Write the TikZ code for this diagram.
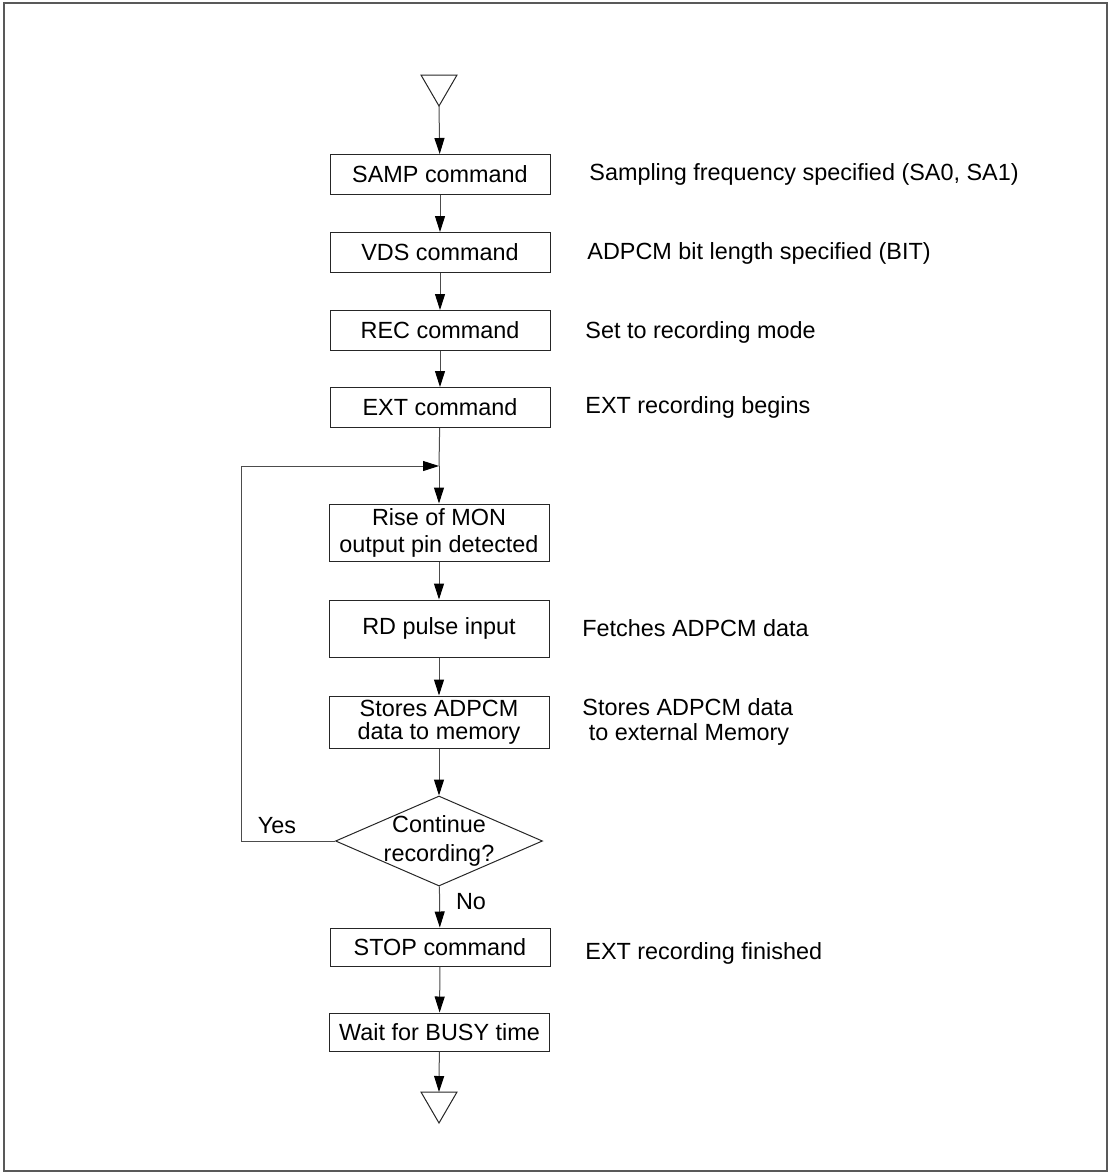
\documentclass[tikz,border=0pt]{standalone}
\usepackage{fontspec}
\setmainfont{Liberation Sans}
\usepackage{tikz}
\usetikzlibrary{arrows.meta,shapes.geometric}
\tikzset{
  frameS/.style ={draw=black!65, line width=1pt},
  stepS/.style  ={draw=black!85, line width=0.5pt, minimum width=110pt, minimum height=20pt, inner sep=1pt, align=center},
  decS/.style   ={diamond, draw=black!85, line width=0.5pt, minimum width=103.5pt, minimum height=45pt, inner sep=0pt},
  termS/.style  ={draw=black!85, line width=0.5pt},
  lineS/.style  ={draw=black!70, line width=0.5pt},
  flowS/.style  ={lineS, -{Triangle[length=8pt,width=5pt,black]}},
  noteS/.style  ={anchor=west, inner sep=0pt, align=left},
}

\begin{document}
\begin{tikzpicture}[x=0.5pt,y=-0.5pt,font=\fontsize{11.7pt}{13.5pt}\selectfont]
  \useasboundingbox (0,0) rectangle (1110,1173);
  \draw[frameS] (4,3) rectangle (1107,1171);
  % start and end terminals
  \coordinate (start) at (439,106);
  \draw[termS] (421,75) -- (457,75) -- (start) -- cycle;
  \coordinate (end) at (439,1092);
  \draw[termS] (421,1092) -- (457,1092) -- (439,1123) -- cycle;
  % steps
  \node[stepS] (samp)  at (440,174.5) {SAMP command};
  \node[stepS] (vds)   at (440,252.5) {VDS command};
  \node[stepS] (rec)   at (440,330.5) {REC command};
  \node[stepS] (ext)   at (440,407.5) {EXT command};
  \node[stepS, minimum height=28.5pt] (mon) at (439,532.5) {Rise of MON\\output pin detected};
  \node[stepS, minimum height=28.5pt] (rd)  at (439,628.5) {RD pulse input};
  \node[stepS, minimum height=26pt]   (store) at (439,722) {Stores ADPCM\\[-2pt]data to memory};
  \node[decS] (dec) at (439,841) {};
  \node[align=center, inner sep=0pt] (dectxt) at (dec.center) {Continue\\[1pt]recording?};
  \node[stepS, minimum height=19pt] (stop) at (440,947) {STOP command};
  \node[stepS, minimum height=19pt] (wait) at (439.5,1032) {Wait for BUSY time};
  % notes
  \node[noteS] (sampN)  at (589,174)  {Sampling frequency specified (SA0, SA1)};
  \node[noteS] (vdsN)   at (587,253)  {ADPCM bit length specified (BIT)};
  \node[noteS] (recN)   at (585,332)  {Set to recording mode};
  \node[noteS] (extN)   at (585,407)  {EXT recording begins};
  \node[noteS] (rdN)    at (582,628)  {Fetches ADPCM data};
  \node[noteS] (storeN) at (582,722)  {Stores ADPCM data\\[-1pt]\ to external Memory};
  \node[noteS] (stopN)  at (585,953)  {EXT recording finished};
  \node (yes) at (277,826) {Yes};
  \node (no)  at (471,902) {No};
  % connectors
  \draw[flowS] (start) -- (samp);
  \foreach \a/\b in {samp/vds, vds/rec, rec/ext, mon/rd, rd/store, store/dec, dec/stop, stop/wait}
    \draw[flowS] (\a) -- (\b);
  \draw[flowS] (wait) -- (end);
  \coordinate (join) at (439,466);
  \draw[lineS] (ext) -- (join);
  \draw[flowS] (join) -- (mon);
  \draw[flowS] (dec.west) -- ++(-94,0) |- (join);
\end{tikzpicture}
\end{document}
